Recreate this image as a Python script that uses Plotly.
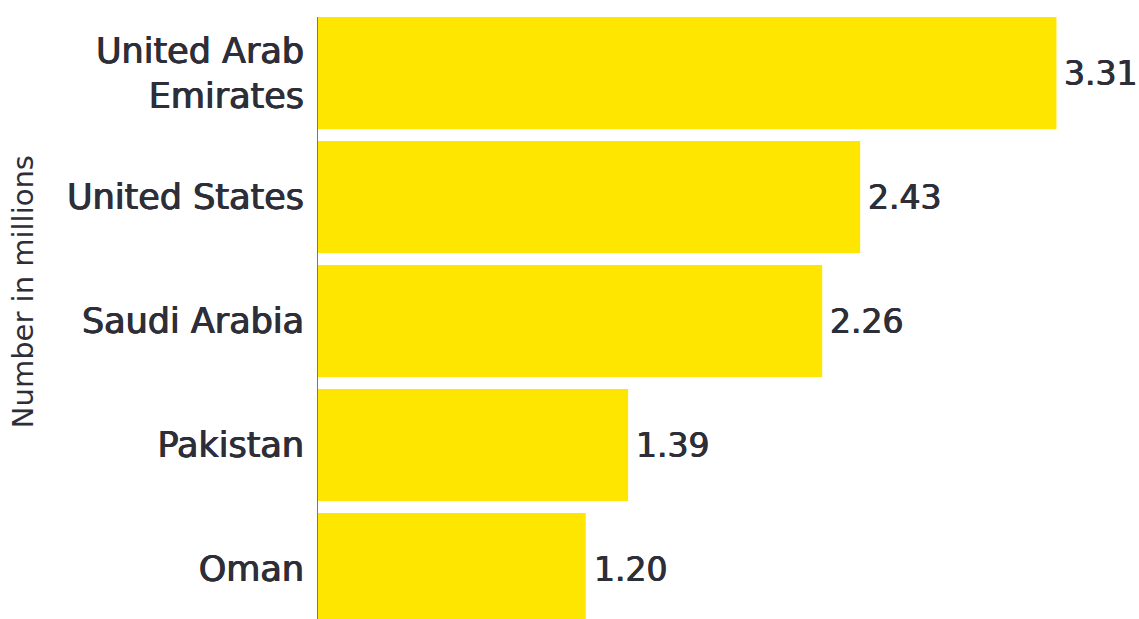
import plotly.graph_objects as go

# Countries and their counts (millions)
countries = ["United Arab<br>Emirates", "United States", "Saudi Arabia", "Pakistan", "Oman"]
values = [3.31, 2.43, 2.26, 1.39, 1.20]
value_labels = ["3.31", "2.43", "2.26", "1.39", "1.20"]

BAR_COLOR = "#FFE600"
TEXT_COLOR = "#2E2E38"
FONT = "DejaVu Sans"
# a thin same-colour shadow gives the labels a medium weight
MEDIUM = f"0.6px 0 0 {TEXT_COLOR}, -0.5px 0 0 {TEXT_COLOR}"

fig = go.Figure(
    go.Bar(
        x=values,
        y=countries,
        orientation="h",
        marker=dict(color=BAR_COLOR, line=dict(width=0)),
        hoverinfo="skip",
    )
)

# Value labels just past the end of each bar
for c, v, lab in zip(countries, values, value_labels):
    fig.add_annotation(
        x=v, y=c, xref="x", yref="y", text=lab, showarrow=False,
        xanchor="left", yanchor="middle", xshift=6,
        font=dict(family=FONT, size=33, color=TEXT_COLOR, shadow=MEDIUM),
    )

# Axis title drawn vertically on the far left
fig.add_annotation(
    x=-0.3593, y=0.543, xref="paper", yref="paper", text="Number in millions",
    showarrow=False, textangle=-90, xanchor="center", yanchor="middle",
    font=dict(family=FONT, size=29, color=TEXT_COLOR),
)

fig.update_layout(
    width=1139,
    height=619,
    margin=dict(l=318, r=0, t=17, b=0),
    paper_bgcolor="white",
    plot_bgcolor="white",
    bargap=0.097,
    showlegend=False,
    xaxis=dict(
        range=[0, 3.68], visible=False, showgrid=False, zeroline=False,
    ),
    yaxis=dict(
        range=[4.403, -0.4516],
        showgrid=False, zeroline=False,
        showline=True, linecolor="#777777", linewidth=1,
        ticks="", ticklabelstandoff=6,
        tickfont=dict(family=FONT, size=35, color=TEXT_COLOR, shadow=MEDIUM),
    ),
)

fig.write_html("out.html")
